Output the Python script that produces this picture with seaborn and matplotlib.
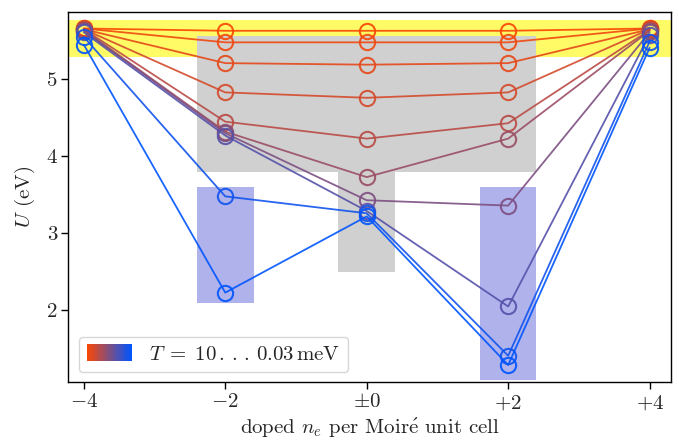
import numpy as np
import pandas as pd
import matplotlib
matplotlib.use("Agg")
import matplotlib.pyplot as plt
from matplotlib.patches import Rectangle
from matplotlib.legend_handler import HandlerBase
import seaborn as sns

# ---- data ----
x_doping = [-4, -2, 0, 2, 4]
x_ticklabels = [r"$-4$", r"$-2$", r"$\pm0$", r"$+2$", r"$+4$"]
y_ticks = [2, 3, 4, 5]

U_T1 = [5.66, 5.63, 5.63, 5.63, 5.66]
U_T2 = [5.66, 5.48, 5.48, 5.48, 5.66]
U_T3 = [5.65, 5.21, 5.19, 5.21, 5.65]
U_T4 = [5.65, 4.83, 4.76, 4.83, 5.65]
U_T5 = [5.65, 4.45, 4.23, 4.43, 5.64]
U_T6 = [5.64, 4.32, 3.73, 4.23, 5.63]
U_T7 = [5.63, 4.30, 3.43, 3.36, 5.61]
U_T8 = [5.61, 4.27, 3.29, 2.05, 5.58]
U_T9 = [5.55, 3.48, 3.26, 1.41, 5.49]
U_T10 = [5.45, 2.23, 3.22, 1.29, 5.41]
series = [U_T1, U_T2, U_T3, U_T4, U_T5, U_T6, U_T7, U_T8, U_T9, U_T10]
color_frac = [0.0, 0.04, 0.08, 0.15, 0.26, 0.38, 0.5, 0.66, 0.93, 1.0]
legend_label = r"$T\;=\;10\,.\,.\,.\,0.03\,\mathrm{meV}$"

# ---- style ----
sns.set_style("white")
plt.rcParams["font.family"] = "serif"
plt.rcParams["font.serif"] = ["cmr10", "DejaVu Serif"]
plt.rcParams["mathtext.fontset"] = "cm"
plt.rcParams["axes.unicode_minus"] = False

FS = 15

c_start = np.array([250, 72, 5]) / 255
c_end = np.array([0, 85, 255]) / 255
def tcolor(f):
    return tuple(c_start * (1 - f) + c_end * f)

fig = plt.figure(figsize=(6.79, 4.41), dpi=100)
ax = fig.add_axes([0.1005, 0.133, 0.8875, 0.8405])

# background regions
ax.axhspan(5.29, 5.77, color="#FFFB66", zorder=0, lw=0)
ax.add_patch(Rectangle((-2.4, 3.8), 4.8, 1.76, color="#D0D0D0", zorder=0.5, lw=0))
ax.add_patch(Rectangle((-0.4, 2.5), 0.8, 1.3, color="#D0D0D0", zorder=0.5, lw=0))
ax.add_patch(Rectangle((-2.4, 2.1), 0.8, 1.5, color="#B0B2EC", zorder=0.5, lw=0))
ax.add_patch(Rectangle((1.6, 1.1), 0.8, 2.5, color="#B0B2EC", zorder=0.5, lw=0))

for vals, f in zip(series, color_frac):
    c = tcolor(f)
    df = pd.DataFrame({"n": x_doping, "U": vals})
    sns.lineplot(data=df, x="n", y="U", ax=ax, color=c, lw=1.3, alpha=0.9,
                 marker="o", markersize=11, markerfacecolor="none",
                 markeredgecolor=c, markeredgewidth=1.5, zorder=3,
                 legend=False)

ax.set_xlim(-4.22, 4.3)
ax.set_ylim(1.065, 5.878)
ax.set_xticks(x_doping)
ax.set_xticklabels(x_ticklabels, fontsize=FS)
ax.set_yticks(y_ticks)
ax.set_yticklabels([str(v) for v in y_ticks], fontsize=FS)
ax.tick_params(axis="both", direction="out", length=5, width=1, color="black",
               bottom=True, left=True, top=False, right=False, pad=3)
for s in ax.spines.values():
    s.set_visible(True)
    s.set_color("black")
    s.set_linewidth(1.0)
ax.set_xlabel(r"doped $n_e$ per Moir$\acute{\mathrm{e}}$ unit cell", fontsize=FS, labelpad=3)
ax.set_ylabel(r"$U$ (eV)", fontsize=FS, labelpad=7)


class GradientHandler(HandlerBase):
    def create_artists(self, legend, orig_handle, xdescent, ydescent, width,
                       height, fontsize, trans):
        n = 40
        arts = []
        h = height * 1.15
        y0 = -ydescent - (h - height) / 2
        for i in range(n):
            f = i / (n - 1)
            r = Rectangle((-xdescent + width * i / n, y0), width / n * 1.05, h,
                          facecolor=tcolor(f), edgecolor="none", transform=trans)
            arts.append(r)
        return arts


handle = Rectangle((0, 0), 1, 1)
leg = ax.legend([handle], [legend_label], handler_map={Rectangle: GradientHandler()},
                loc="lower left", fontsize=FS, handlelength=2.16, handletextpad=0.8,
                frameon=True, fancybox=True, borderpad=0.4, borderaxespad=0.5)
leg.get_frame().set_edgecolor("#CCCCCC")
leg.get_frame().set_linewidth(1.0)

fig.savefig("out.png", dpi=100)
